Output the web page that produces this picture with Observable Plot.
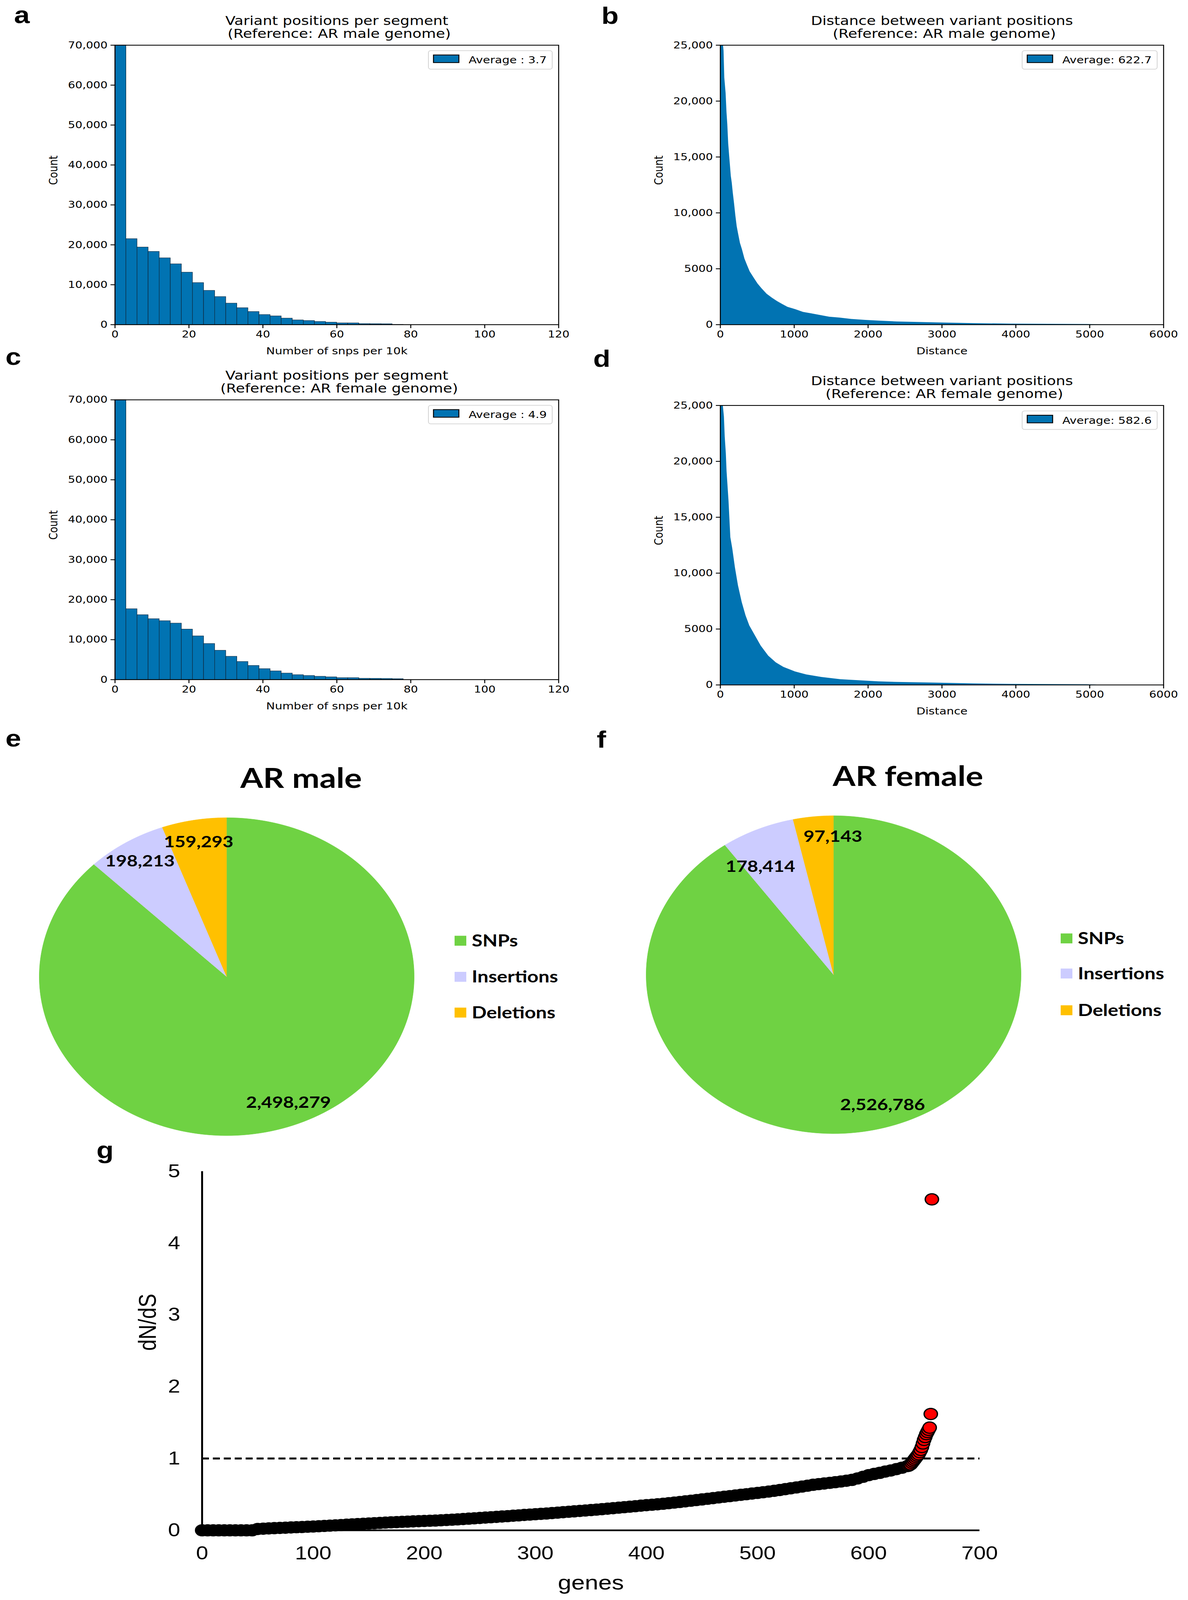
<!DOCTYPE html>
<html>
<head>
<meta charset="utf-8">
<title>Variant statistics, AR male and female genomes</title>
<script src="https://cdn.jsdelivr.net/npm/d3@7"></script>
<script src="https://cdn.jsdelivr.net/npm/@observablehq/plot@0.6"></script>
<style>
  html, body { margin: 0; padding: 0; background: #fff; overflow: hidden; }
  #page { position: relative; width: 3042px; height: 4832px; overflow: hidden; background: #fff; transform-origin: 0 0; }
  .panel { position: absolute; }
  .panel svg { display: block; overflow: visible; }
  #overlay { position: absolute; left: 0; top: 0; pointer-events: none; }
</style>
</head>
<body>
<div id="page"></div>
<script>
// ---- panels a & c: variant positions per 10 kb segment (bins of width 3) ----
const segBinStart = [0, 3, 6, 9, 12, 15, 18, 21, 24, 27, 30, 33, 36, 39, 42, 45, 48, 51, 54, 57, 60, 63, 66, 69, 72, 75];
const segBinWidth = 3;
const segCountMale = [70000, 21500, 19400, 18300, 16700, 15200, 13100, 10500, 8550, 7000, 5350, 4200, 3250, 2500, 2150, 1600, 1150, 990, 760, 580, 410, 400, 230, 200, 180, 40];
const segCountFemale = [70000, 17700, 16200, 15200, 14700, 14100, 12600, 10900, 9000, 7300, 5800, 4500, 3500, 2700, 2150, 1600, 1200, 1000, 800, 650, 450, 450, 300, 280, 250, 200];
const segXTicks = [0, 20, 40, 60, 80, 100, 120];
const segYTicks = [0, 10000, 20000, 30000, 40000, 50000, 60000, 70000];

// ---- panels b & d: distance between variant positions (outline of a fine histogram) ----
const distMaleX = [0, 39, 46, 56, 74, 86, 97, 109, 122, 132, 144, 157, 171, 189, 206, 224, 241, 268, 294, 329, 365, 400, 453, 506, 559, 629, 700, 770, 840, 911, 1017, 1122, 1228, 1334, 1475, 1616, 1774, 1968, 2144, 2395, 2908, 3421, 3934, 4447, 4960, 5268, 5300];
const distMaleCount = [25000, 25000, 24500, 22100, 20700, 19000, 17900, 16200, 15100, 14300, 13300, 12700, 11800, 10800, 9750, 8800, 8200, 7300, 6750, 5900, 5300, 4750, 4200, 3670, 3250, 2750, 2400, 2100, 1830, 1580, 1370, 1130, 1000, 870, 700, 620, 500, 410, 350, 270, 190, 120, 80, 60, 40, 20, 0];
const distFemaleX = [0, 36, 51, 62, 77, 87, 113, 138, 164, 200, 241, 292, 344, 395, 472, 549, 651, 754, 856, 1010, 1164, 1369, 1626, 1882, 2139, 2395, 2908, 3421, 3934, 4447, 4960, 5070, 5100];
const distFemaleCount = [25000, 25000, 24000, 22200, 20700, 19100, 16500, 13200, 12200, 10500, 8900, 7400, 6200, 5300, 4400, 3500, 2600, 2000, 1600, 1200, 930, 700, 500, 400, 310, 250, 190, 120, 80, 60, 40, 20, 0];
const distXTicks = [0, 1000, 2000, 3000, 4000, 5000, 6000];
const distYTicks = [0, 5000, 10000, 15000, 20000, 25000];

// ---- panels e & f: variant types ----
const variantTypes = ["SNPs", "Insertions", "Deletions"];
const variantColors = ["#6fd243", "#ccccff", "#ffc000"];
const variantsMale = [2498279, 198213, 159293];
const variantsFemale = [2526786, 178414, 97143];

// ---- panel g: dN/dS of ranked genes ----
const dndsStep = 5; // body of the curve read every 5th ranked gene
const dndsBody = [
  0, 0, 0, 0, 0, 0, 0, 0, 0, 0,
  0.018, 0.022, 0.026, 0.030, 0.033, 0.036, 0.040, 0.043, 0.046, 0.050,
  0.053, 0.057, 0.061, 0.065, 0.069, 0.073, 0.078, 0.082, 0.087, 0.091,
  0.095, 0.099, 0.103, 0.107, 0.111, 0.114, 0.118, 0.121, 0.124, 0.127,
  0.130, 0.133, 0.136, 0.140, 0.144, 0.148, 0.152, 0.157, 0.162, 0.167,
  0.172, 0.177, 0.182, 0.187, 0.192, 0.197, 0.203, 0.208, 0.214, 0.219,
  0.224, 0.229, 0.234, 0.240, 0.246, 0.252, 0.258, 0.264, 0.270, 0.276,
  0.282, 0.288, 0.294, 0.301, 0.308, 0.315, 0.322, 0.329, 0.336, 0.343,
  0.350, 0.356, 0.362, 0.370, 0.378, 0.386, 0.394, 0.403, 0.412, 0.421,
  0.430, 0.439, 0.448, 0.458, 0.467, 0.476, 0.485, 0.494, 0.503, 0.512,
  0.521, 0.530, 0.540, 0.550, 0.561, 0.573, 0.585, 0.597, 0.609, 0.621,
  0.634, 0.643, 0.652, 0.661, 0.670, 0.680, 0.690, 0.702, 0.722, 0.745,
  0.768, 0.785, 0.800, 0.818, 0.833, 0.852, 0.872, 0.895
];
const dndsRedRank = [636, 637, 638, 639, 640, 641, 642, 643, 644, 645, 646, 647, 648, 649, 650, 651, 652, 653, 654, 655, 656, 657];
const dndsRed = [0.90, 0.91, 0.92, 0.94, 0.96, 0.98, 1.00, 1.02, 1.04, 1.06, 1.09, 1.12, 1.16, 1.21, 1.26, 1.30, 1.34, 1.37, 1.40, 1.43, 1.62, 4.61];
const genesXTicks = [0, 100, 200, 300, 400, 500, 600, 700];
const dndsYTicks = [0, 1, 2, 3, 4, 5];

const blue = "#0173b2";
const mplFont = '"DejaVu Sans", "Liberation Sans", sans-serif';
const officeFont = 'Lato, "Open Sans", "Noto Sans", sans-serif';
const arialFont = '"Liberation Sans", Arial, sans-serif';

const page = document.getElementById("page");

// the figure is laid out at 3042 x 4832; squeeze it to the height the window really shows
const figureHeight = 4832;
if (window.innerHeight && window.innerHeight < figureHeight) {
  page.style.transform = `scale(1, ${window.innerHeight / figureHeight})`;
}

// every chart is an absolutely placed svg; box = [left, top, width, height], frame = [left, top, right, bottom]
function place(chart, box) {
  const div = document.createElement("div");
  div.className = "panel";
  div.style.left = box[0] + "px";
  div.style.top = box[1] + "px";
  div.style.width = box[2] + "px";
  div.style.height = box[3] + "px";
  chart.style.maxWidth = "none";
  chart.style.background = "transparent";
  div.append(chart);
  page.append(div);
}

function margins(box, frame) {
  return {
    width: box[2],
    height: box[3],
    marginLeft: frame[0] - box[0],
    marginTop: frame[1] - box[1],
    marginRight: box[0] + box[2] - frame[2],
    marginBottom: box[1] + box[3] - frame[3]
  };
}

// matplotlib writes 5000 but 10,000
const countFormat = d => d >= 10000 ? d3.format(",")(d) : String(d);

function histogramPanel({box, frame, histMark, xDomain, xTicks, yDomain, yTicks, title, subtitle, xLabel}) {
  const chart = Plot.plot({
    ...margins(box, frame),
    style: {fontFamily: mplFont, fontSize: "29px", color: "black", background: "transparent"},
    x: {domain: xDomain},
    y: {domain: yDomain},
    marks: [
      histMark,
      Plot.axisX({ticks: xTicks, tickSize: 11, tickPadding: 7, strokeWidth: 2.5, fontSize: 29, tickFormat: d => String(d), label: null}),
      Plot.axisY({ticks: yTicks, tickSize: 11, tickPadding: 8, strokeWidth: 2.5, fontSize: 29, tickFormat: countFormat, label: null}),
      Plot.frame({stroke: "black", strokeWidth: 2.5}),
      Plot.text([title], {text: d => d, frameAnchor: "top", lineAnchor: "middle", dy: -73, fontSize: 38}),
      Plot.text([subtitle], {text: d => d, frameAnchor: "top", lineAnchor: "middle", dy: -34, fontSize: 38}),
      Plot.text([xLabel], {text: d => d, frameAnchor: "bottom", lineAnchor: "middle", dy: 80, fontSize: 30}),
      Plot.text(["Count"], {text: d => d, frameAnchor: "left", lineAnchor: "middle", dx: -157, rotate: -90, fontSize: 30})
    ]
  });
  place(chart, box);
}

const segRows = counts => segBinStart.map((x0, i) => ({x0, x1: x0 + segBinWidth, count: counts[i]}));
const distRows = (xs, counts) => xs.map((d, i) => ({d, count: counts[i]}));

const segBars = counts => Plot.rect(segRows(counts), {
  x1: "x0", x2: "x1", y1: 0, y2: "count",
  fill: blue, stroke: "#10283c", strokeWidth: 1.2
});
const distArea = (xs, counts) => Plot.areaY(distRows(xs, counts), {x: "d", y: "count", fill: blue, curve: "linear"});

const frames = {
  a: [294, 136, 1430, 980],
  b: [1844, 136, 2979, 980],
  c: [294, 1207, 1430, 2052],
  d: [1844, 1224, 2979, 2068]
};

histogramPanel({
  box: [0, 0, 1521, 1100], frame: frames.a,
  histMark: segBars(segCountMale),
  xDomain: [0, 120], xTicks: segXTicks, yDomain: [0, 70000], yTicks: segYTicks,
  title: "Variant positions per segment", subtitle: " (Reference: AR male genome)",
  xLabel: "Number of snps per 10k"
});
histogramPanel({
  box: [1521, 0, 1521, 1100], frame: frames.b,
  histMark: distArea(distMaleX, distMaleCount),
  xDomain: [0, 6000], xTicks: distXTicks, yDomain: [0, 25000], yTicks: distYTicks,
  title: "Distance between variant positions", subtitle: " (Reference: AR male genome)",
  xLabel: "Distance"
});
histogramPanel({
  box: [0, 1070, 1521, 1100], frame: frames.c,
  histMark: segBars(segCountFemale),
  xDomain: [0, 120], xTicks: segXTicks, yDomain: [0, 70000], yTicks: segYTicks,
  title: "Variant positions per segment", subtitle: " (Reference: AR female genome)",
  xLabel: "Number of snps per 10k"
});
histogramPanel({
  box: [1521, 1070, 1521, 1100], frame: frames.d,
  histMark: distArea(distFemaleX, distFemaleCount),
  xDomain: [0, 6000], xTicks: distXTicks, yDomain: [0, 25000], yTicks: distYTicks,
  title: "Distance between variant positions", subtitle: " (Reference: AR female genome)",
  xLabel: "Distance"
});

// pies: slices start at 12 o'clock and run clockwise, as Excel draws them.
// labelShift nudges a value label off its mid-angle spot, like Excel's "best fit".
function piePanel({box, frame, values, labelShift}) {
  const arcs = d3.pie().sort(null)(values);
  const outline = a => {
    const pts = [[0, 0]];
    const n = 180;
    for (let k = 0; k <= n; k++) {
      const t = a.startAngle + (a.endAngle - a.startAngle) * k / n;
      pts.push([Math.sin(t), Math.cos(t)]);
    }
    return pts;
  };
  const mid = a => (a.startAngle + a.endAngle) / 2;
  const slices = arcs.map((a, i) => Plot.line(outline(a), {
    x: p => p[0], y: p => p[1],
    fill: variantColors[i], stroke: variantColors[i], strokeWidth: 1
  }));
  const labels = arcs.map((a, i) => Plot.text([a], {
    x: d => 0.86 * Math.sin(mid(d)),
    y: d => 0.86 * Math.cos(mid(d)),
    text: d => d3.format(",")(d.value),
    dx: labelShift[i][0], dy: labelShift[i][1],
    fontFamily: officeFont, fontWeight: 700, fontSize: 48, fill: "black"
  }));
  const chart = Plot.plot({
    ...margins(box, frame),
    style: {background: "transparent"},
    x: {domain: [-1, 1], axis: null},
    y: {domain: [-1, 1], axis: null},
    marks: [...slices, ...labels]
  });
  place(chart, box);
}

piePanel({box: [0, 2150, 1521, 1300], frame: [100, 2469, 1060, 3429], values: variantsMale,
  labelShift: [[0, 0], [0, 0], [0, 0]]});
piePanel({box: [1521, 2150, 1521, 1300], frame: [1654, 2463, 2614, 3423], values: variantsFemale,
  labelShift: [[0, 0], [-20, 52], [43, -6]]});

// panel g
const bodyRows = dndsBody.map((v, i) => ({rank: i * dndsStep, v}));
const redRows = dndsRedRank.map((rank, i) => ({rank, v: dndsRed[i]}));
const gBox = [0, 3420, 3042, 1412];
const gChart = Plot.plot({
  ...margins(gBox, [517, 3537, 2508, 4621]),
  style: {fontFamily: arialFont, color: "black", background: "transparent"},
  x: {domain: [0, 700]},
  y: {domain: [0, 5]},
  marks: [
    Plot.ruleY([1], {x1: 0, x2: 700, stroke: "black", strokeWidth: 6, strokeDasharray: "18,10"}),
    Plot.ruleX([0], {y1: 0, y2: 5, stroke: "black", strokeWidth: 5}),
    Plot.ruleY([0], {x1: 0, x2: 700, stroke: "black", strokeWidth: 5}),
    Plot.dot(bodyRows, {x: "rank", y: "v", r: 17, fill: "black", stroke: "black", strokeWidth: 3}),
    Plot.dot(redRows, {x: "rank", y: "v", r: 17, fill: "#ff0000", stroke: "black", strokeWidth: 3.5}),
    Plot.axisX({ticks: genesXTicks, tickSize: 0, tickPadding: 48, fontSize: 56, tickFormat: d => String(d), label: null}),
    Plot.axisY({ticks: dndsYTicks, tickSize: 0, tickPadding: 56, fontSize: 56, tickFormat: d => String(d), label: null}),
    Plot.text(["genes"], {text: d => d, frameAnchor: "bottom", lineAnchor: "middle", dy: 159, fontSize: 62}),
    Plot.text(["dN/dS"], {text: d => d, frameAnchor: "left", lineAnchor: "middle", dx: -138, rotate: -90, fontSize: 62})
  ]
});
place(gChart, gBox);

// ---- overlay: panel letters, pie titles and legends, histogram legends ----
const overlay = d3.select(page).append("svg")
  .attr("id", "overlay").attr("width", 3042).attr("height", 4832);

const letters = [["a", 56, 70], ["b", 1562, 72], ["c", 34, 1102], ["d", 1541, 1108], ["e", 34, 2254], ["f", 1540, 2258], ["g", 269, 3498]];
overlay.selectAll("text.letter").data(letters).join("text")
  .attr("class", "letter")
  .attr("x", d => d[1]).attr("y", d => d[2])
  .attr("text-anchor", "middle")
  .style("font-family", arialFont).style("font-weight", 700).style("font-size", "72px")
  .text(d => d[0]);

function histLegend(frame, label) {
  const right = frame[2] - 16, top = frame[1] + 17, h = 56;
  const g = overlay.append("g");
  const rect = g.append("rect").attr("y", top).attr("height", h).attr("rx", 6)
    .attr("fill", "white").attr("stroke", "#d3d3d3").attr("stroke-width", 2);
  const patch = g.append("rect").attr("y", top + 13).attr("width", 65).attr("height", 23)
    .attr("fill", blue).attr("stroke", "black").attr("stroke-width", 2.5);
  const text = g.append("text").attr("y", top + h / 2).attr("dy", "0.35em")
    .style("font-family", mplFont).style("font-size", "30px").text(label);
  const w = 103 + text.node().getComputedTextLength() + 14;
  const left = right - w;
  rect.attr("x", left).attr("width", w);
  patch.attr("x", left + 13);
  text.attr("x", left + 103);
}
histLegend(frames.a, "Average : 3.7");
histLegend(frames.b, "Average: 622.7");
histLegend(frames.c, "Average : 4.9");
histLegend(frames.d, "Average: 582.6");

function pieHeading(title, tx, ty, squareLeft, rowCenters) {
  overlay.append("text").attr("x", tx).attr("y", ty).attr("text-anchor", "middle")
    .style("font-family", officeFont).style("font-weight", 700).style("font-size", "84px")
    .text(title);
  variantTypes.forEach((name, i) => {
    overlay.append("rect").attr("x", squareLeft).attr("y", rowCenters[i] - 15)
      .attr("width", 30).attr("height", 30).attr("fill", variantColors[i]);
    overlay.append("text").attr("x", squareLeft + 44).attr("y", rowCenters[i]).attr("dy", "0.35em")
      .style("font-family", officeFont).style("font-weight", 700).style("font-size", "50px")
      .text(name);
  });
}
pieHeading("AR male", 771, 2380, 1164, [2841, 2950, 3058]);
pieHeading("AR female", 2325, 2374, 2716, [2834, 2940, 3051]);
</script>
</body>
</html>
